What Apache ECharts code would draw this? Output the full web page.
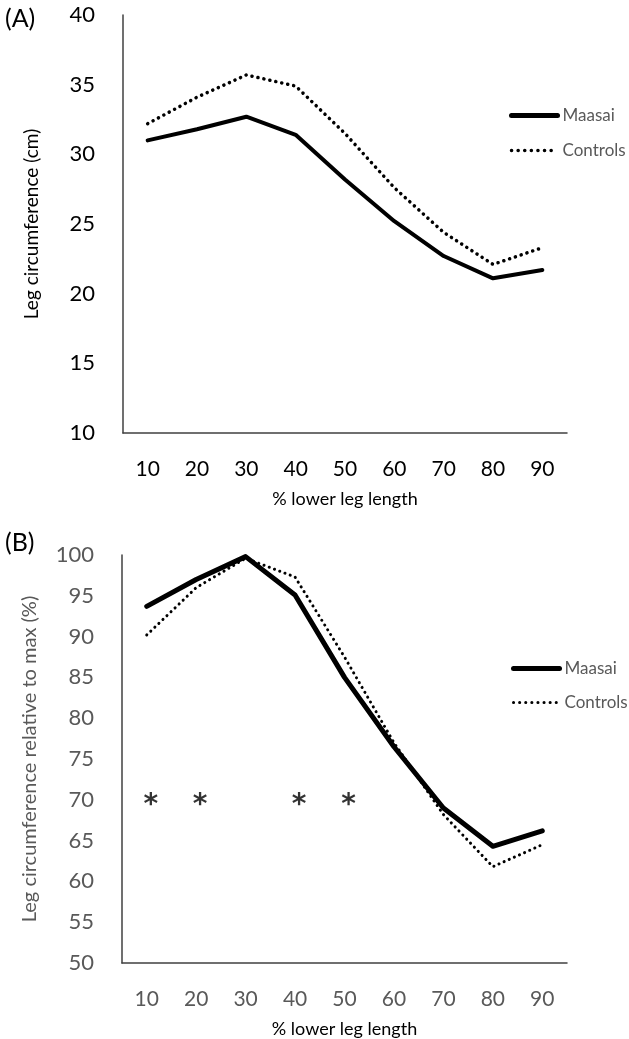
<!DOCTYPE html>
<html>
<head>
<meta charset="utf-8">
<script src="https://cdn.jsdelivr.net/npm/echarts@6/dist/echarts.min.js"></script>
<style>
  html, body { margin: 0; padding: 0; background: #fff; }
  #container { width: 629px; height: 1039px; }
</style>
</head>
<body>
<div id="container"></div>
<script type="text/javascript">
    // % lower leg length
    var categories = ['10', '20', '30', '40', '50', '60', '70', '80', '90'];

    // (A) leg circumference in cm
    var maasaiCm = [31.0, 31.8, 32.7, 31.4, 28.2, 25.2, 22.7, 21.1, 21.7];
    var controlsCm = [32.2, 34.1, 35.7, 34.9, 31.5, 27.6, 24.4, 22.1, 23.3];

    // (B) relative to max (%)
    var maasaiRel = [93.7, 97.0, 99.8, 95.1, 85.0, 76.5, 69.0, 64.3, 66.2];
    var controlsRel = [90.2, 96.0, 99.6, 97.3, 87.5, 77.0, 68.2, 61.8, 64.5];

    // significance stars (category index, y)
    var stars = [[0, 70], [1, 70], [3, 70], [4, 70]];

    var font = 'Lato, "Open Sans", sans-serif';
    var grey = '#595959';

    var dom = document.getElementById("container");
    var myChart = echarts.init(dom);

    function xAx(idx, labelColor, nameColor) {
        return {
            type: 'category', gridIndex: idx, data: categories,
            boundaryGap: true,
            axisLine: {lineStyle: {color: '#404040', width: 1.5}},
            axisTick: {show: false},
            axisLabel: {color: labelColor, fontSize: 21, fontFamily: font, margin: 26},
            name: '% lower leg length', nameLocation: 'middle', nameGap: 57,
            nameTextStyle: {color: nameColor, fontSize: 18, fontFamily: font}
        };
    }

    function yAx(idx, min, max, name, labelColor, nameColor, nameSize) {
        return {
            type: 'value', gridIndex: idx, min: min, max: max, interval: 5,
            axisLine: {show: true, lineStyle: {color: '#404040', width: 1.5}},
            axisTick: {show: false},
            splitLine: {show: false},
            axisLabel: {color: labelColor, fontSize: 22, fontFamily: font, margin: 28},
            name: name, nameLocation: 'middle', nameGap: 82, nameRotate: 90,
            nameTextStyle: {color: nameColor, fontSize: nameSize, fontFamily: font}
        };
    }

    var legendBase = {
        orient: 'vertical', itemWidth: 46, itemHeight: 14,
        itemStyle: {opacity: 0},
        textStyle: {color: grey, fontSize: 17, fontFamily: font}
    };

    var option = {
        animation: false,
        backgroundColor: '#fff',
        title: [
            {text: '(A)', left: 0, top: 1, textStyle: {fontSize: 25, fontWeight: 'normal', color: '#000', fontFamily: font}},
            {text: '(B)', left: 0, top: 525, textStyle: {fontSize: 25, fontWeight: 'normal', color: '#000', fontFamily: font}}
        ],
        legend: [
            Object.assign({}, legendBase, {left: 504, top: 102, itemGap: 18, data: [
                {name: 'Maasai', lineStyle: {width: 5, type: 'solid', cap: 'round'}},
                {name: 'Controls', lineStyle: {width: 3.5, type: [0.1, 6.5], cap: 'round'}}
            ]}),
            Object.assign({}, legendBase, {left: 506, top: 655, itemGap: 17, data: [
                {name: 'Maasai ', lineStyle: {width: 5, type: 'solid', cap: 'round'}},
                {name: 'Controls ', lineStyle: {width: 3, type: [0.1, 6], cap: 'round'}}
            ]})
        ],
        grid: [
            {left: 123, top: 15, width: 444, height: 418},
            {left: 122, top: 555, width: 445, height: 410}
        ],
        xAxis: [xAx(0, '#000', '#000'), xAx(1, grey, '#000')],
        yAxis: [
            yAx(0, 10, 40, 'Leg circumference (cm)', '#000', '#000', 19),
            yAx(1, 50, 100, 'Leg circumference relative to max (%)', grey, grey, 20)
        ],
        series: [
            {name: 'Maasai', type: 'line', xAxisIndex: 0, yAxisIndex: 0, data: maasaiCm,
             symbol: 'none', lineStyle: {color: '#000', width: 4, cap: 'round', join: 'round'}, itemStyle: {color: '#000'}},
            {name: 'Controls', type: 'line', xAxisIndex: 0, yAxisIndex: 0, data: controlsCm,
             symbol: 'none', lineStyle: {color: '#000', width: 3.5, type: [0.1, 6], cap: 'round'}, itemStyle: {color: '#000'}},
            {name: 'Maasai ', type: 'line', xAxisIndex: 1, yAxisIndex: 1, data: maasaiRel,
             symbol: 'none', lineStyle: {color: '#000', width: 5, cap: 'round', join: 'round'}, itemStyle: {color: '#000'}},
            {name: 'Controls ', type: 'line', xAxisIndex: 1, yAxisIndex: 1, data: controlsRel,
             symbol: 'none', lineStyle: {color: '#000', width: 3, type: [0.1, 5.5], cap: 'round'}, itemStyle: {color: '#000'}},
            {name: 'stars', type: 'scatter', xAxisIndex: 1, yAxisIndex: 1, data: stars,
             symbolSize: 0, silent: true,
             label: {show: true, position: 'inside', formatter: '*', color: '#000', fontSize: 28, fontWeight: 'bold',
                     fontFamily: '"DejaVu Sans", sans-serif', offset: [4, 6]}}
        ]
    };

    if (option && typeof option === 'object') {
        myChart.setOption(option);
    }
</script>
</body>
</html>
